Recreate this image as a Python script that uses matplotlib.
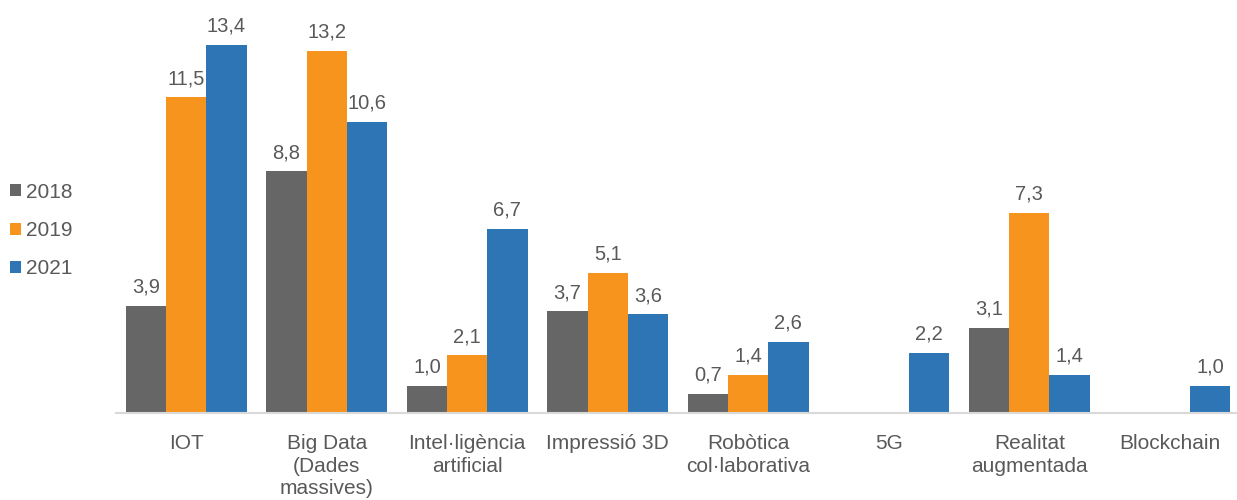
import numpy as np
import matplotlib.pyplot as plt

plt.rcParams['font.family'] = ['Liberation Sans', 'DejaVu Sans']

# Data
categories = ["IOT", "Big Data\n(Dades\nmassives)", "Intel·ligència\nartificial",
              "Impressió 3D", "Robòtica\ncol·laborativa", "5G",
              "Realitat\naugmentada", "Blockchain"]
years = ["2018", "2019", "2021"]
v2018 = [3.9, 8.8, 1.0, 3.7, 0.7, np.nan, 3.1, np.nan]
v2019 = [11.5, 13.2, 2.1, 5.1, 1.4, np.nan, 7.3, np.nan]
v2021 = [13.4, 10.6, 6.7, 3.6, 2.6, 2.2, 1.4, 1.0]
colors = ["#666666", "#F7941D", "#2E75B6"]

text_color = "#595959"

fig = plt.figure(figsize=(12.37, 5), dpi=100)
ax = fig.add_axes([116 / 1237, 87 / 500, 1124 / 1237, 410 / 500])

x = np.arange(len(categories))
w = 0.286
series = [v2018, v2019, v2021]

for i, (vals, col, yr) in enumerate(zip(series, colors, years)):
    pos = x + (i - 1) * w
    ax.bar(pos, vals, width=w, color=col, label=yr)
    for p, v in zip(pos, vals):
        if not np.isnan(v):
            ax.text(p, v + 0.33, f"{v:.1f}".replace(".", ","), ha="center",
                    va="bottom", fontsize=14.5, color=text_color)

ax.set_xlim(-0.5, len(categories) - 0.5)
ax.set_ylim(0, 14.93)
ax.set_xticks(x)
ax.set_xticklabels(categories, fontsize=15, color=text_color, linespacing=1.25)
ax.tick_params(axis="x", length=0, pad=15)
ax.set_yticks([])
for s in ["top", "right", "left"]:
    ax.spines[s].set_visible(False)
ax.spines["bottom"].set_color("#D9D9D9")
ax.spines["bottom"].set_linewidth(1.5)

leg = fig.legend(loc="upper left", bbox_to_anchor=(-0.007, 0.672), frameon=False,
                 fontsize=15, handlelength=0.5, handleheight=0.5,
                 handletextpad=0.25, labelspacing=0.93)
for t in leg.get_texts():
    t.set_color(text_color)

plt.savefig("out.png", dpi=100)
